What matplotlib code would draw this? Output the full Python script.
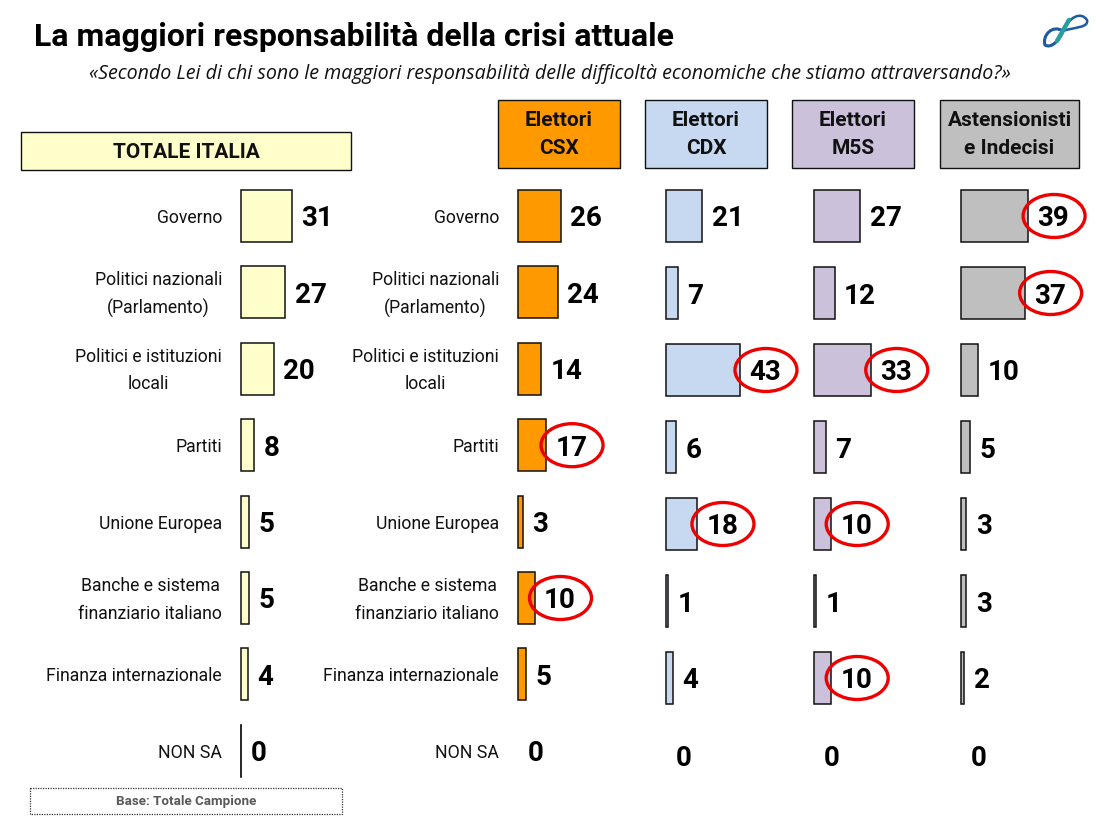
import matplotlib
matplotlib.use("Agg")
import matplotlib.pyplot as plt
from matplotlib.patches import Rectangle, Ellipse, PathPatch
from matplotlib.path import Path

W, H = 1119, 840
SANS = "Roboto"

categories = ["Governo", "Politici nazionali\n(Parlamento)", "Politici e istituzioni\nlocali",
              "Partiti", "Unione Europea", "Banche e sistema\nfinanziario italiano",
              "Finanza internazionale", "NON SA"]

totale = [31, 27, 20, 8, 5, 5, 4, 0]
csx = [26, 24, 14, 17, 3, 10, 5, 0]
cdx = [21, 7, 43, 6, 18, 1, 4, 0]
m5s = [27, 12, 33, 7, 10, 1, 10, 0]
astens = [39, 37, 10, 5, 3, 3, 2, 0]

circled_csx = [3, 5]
circled_cdx = [2, 4]
circled_m5s = [2, 4, 6]
circled_astens = [0, 1]

fig = plt.figure(figsize=(W / 100, H / 100), dpi=100, facecolor="white")


def panel(values, x0, scale, first, step, color, labels_right=None, circled=(), zero_line=False):
    top = first - step / 2
    height = step * 8
    width = 130
    ax = fig.add_axes([x0 / W, 1 - (top + height) / H, width / W, height / H])
    ax.set_xlim(0, width / scale)
    ax.set_ylim(7.5, -0.5)
    ax.axis("off")
    ax.patch.set_alpha(0)
    widths = [1.1 if v > 0 else 0 for v in values]
    ax.barh(range(8), values, height=52 / step, color=color, edgecolor="#111111", linewidth=widths,
            clip_on=False)
    for i, v in enumerate(values):
        ax.text(v + 9.5 / scale, i, str(v), ha="left", va="center_baseline", family=SANS,
                fontweight="bold", fontsize=20, color="black", clip_on=False)
        if v == 0 and zero_line:
            ax.plot([0, 0], [i - 26 / step, i + 26 / step], color="black", lw=1.2, clip_on=False)
    if labels_right is not None:
        for i, c in enumerate(categories):
            ax.text((labels_right - x0) / scale, i + 2 / step, c, ha="right", va="center",
                    multialignment="center", family=SANS, fontsize=12.7, color="#111111",
                    linespacing=1.65, clip_on=False)
    for i in circled:
        cx = x0 + values[i] * scale + 26
        cy = first + i * step
        overlay.add_patch(Ellipse((cx, cy), 62, 43, fill=False, edgecolor="#EE0000", lw=2.4, zorder=5))


# overlay in pixel coordinates for the slide furniture
overlay = fig.add_axes([0, 0, 1, 1], zorder=3)
overlay.set_xlim(0, W)
overlay.set_ylim(H, 0)
overlay.axis("off")
overlay.patch.set_alpha(0)

panel(totale, 241, 1.63, 216, 76.4, "#FFFFCC", labels_right=222, zero_line=True)
panel(csx, 518, 1.65, 216, 76.4, "#FF9900", labels_right=499, circled=circled_csx)
panel(cdx, 666, 1.72, 216, 77, "#C6D9F1", circled=circled_cdx)
panel(m5s, 814, 1.72, 216, 77, "#CCC1DA", circled=circled_m5s)
panel(astens, 961, 1.72, 216, 77, "#BFBFBF", circled=circled_astens)

overlay.text(34, 37, "La maggiori responsabilità della crisi attuale", family=SANS, fontweight="bold",
             fontsize=23, ha="left", va="center", color="black")
overlay.text(550, 74, "«Secondo Lei di chi sono le maggiori responsabilità delle difficoltà economiche che stiamo attraversando?»",
             family="Open Sans", style="italic", fontsize=14.1, ha="center", va="center", color="#111111")

headers = [("TOTALE ITALIA", 21, 132, 330, 38, "#FFFFCC"),
           ("Elettori\nCSX", 498, 100, 122, 68, "#FF9900"),
           ("Elettori\nCDX", 645, 100, 122, 68, "#C6D9F1"),
           ("Elettori\nM5S", 792, 100, 122, 68, "#CCC1DA"),
           ("Astensionisti\ne Indecisi", 940, 100, 139, 68, "#BFBFBF")]
for label, x, y, w, h, col in headers:
    overlay.add_patch(Rectangle((x + 1, y + 1), w, h, facecolor="#888888", edgecolor="none"))
    overlay.add_patch(Rectangle((x, y), w, h, facecolor=col, edgecolor="#111111", lw=1.0))
    overlay.text(x + w / 2, y + h / 2 + 1, label, ha="center", va="center", family=SANS,
                 fontweight="bold", fontsize=15, color="#111111", linespacing=1.6)

overlay.add_patch(Rectangle((30, 788), 312, 26, fill=False, edgecolor="#333333", lw=0.9, linestyle=(0, (1, 1))))
overlay.text(186, 802, "Base: Totale Campione", ha="center", va="center", family=SANS, fontweight="bold",
             fontsize=9.6, color="#595959")

# logo
loop_a = Path([(1063, 31), (1052, 24), (1042, 36), (1045, 45), (1051, 49), (1060, 40), (1063, 31)],
              [Path.MOVETO, Path.CURVE4, Path.CURVE4, Path.CURVE4, Path.CURVE4, Path.CURVE4, Path.CURVE4])
loop_b = Path([(1063, 31), (1069, 17), (1081, 11), (1087, 20), (1089, 28), (1074, 27), (1063, 31)],
              [Path.MOVETO, Path.CURVE4, Path.CURVE4, Path.CURVE4, Path.CURVE4, Path.CURVE4, Path.CURVE4])
overlay.add_patch(PathPatch(loop_a, facecolor="none", edgecolor="#1E5AA0", lw=2.2))
overlay.add_patch(PathPatch(loop_b, facecolor="none", edgecolor="#1E5AA0", lw=1.8))
overlay.plot([1057, 1069], [41, 20], color="#2A9DA0", lw=3.2, solid_capstyle="round")

fig.savefig("out.png", dpi=100)
